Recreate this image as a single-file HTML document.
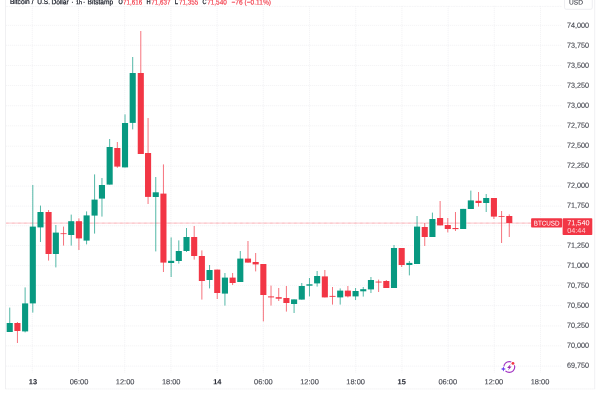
<!DOCTYPE html>
<html lang="en">
<head>
<meta charset="utf-8">
<title>BTCUSD chart</title>
<style>
html,body{margin:0;padding:0;background:#fff;}
body{width:600px;height:400px;overflow:hidden;position:relative;font-family:"Liberation Sans",Arial,sans-serif;}
svg{display:block;position:absolute;left:0;top:0;}
svg text{font-family:"Liberation Sans",Arial,sans-serif;}
</style>
</head>
<body>
<svg width="600" height="400" viewBox="0 0 600 400">
<rect x="0" y="0" width="600" height="400" fill="#ffffff"/>

<g stroke="#efeff2" stroke-width="0.7" stroke-dasharray="1.2 0.8" fill="none">
<line x1="6" y1="6.4" x2="561.6" y2="6.4" stroke-dasharray="2 0.6" stroke="#f1f1f4"/>
<line x1="6" y1="25.4" x2="561.6" y2="25.4"/>
<line x1="6" y1="45.3" x2="561.6" y2="45.3"/>
<line x1="6" y1="65.5" x2="561.6" y2="65.5"/>
<line x1="6" y1="85.5" x2="561.6" y2="85.5"/>
<line x1="6" y1="105.7" x2="561.6" y2="105.7"/>
<line x1="6" y1="125.8" x2="561.6" y2="125.8"/>
<line x1="6" y1="146.2" x2="561.6" y2="146.2"/>
<line x1="6" y1="166.2" x2="561.6" y2="166.2"/>
<line x1="6" y1="186.1" x2="561.6" y2="186.1"/>
<line x1="6" y1="206.1" x2="561.6" y2="206.1"/>
<line x1="6" y1="225.7" x2="561.6" y2="225.7"/>
<line x1="6" y1="245.5" x2="561.6" y2="245.5"/>
<line x1="6" y1="265.6" x2="561.6" y2="265.6"/>
<line x1="6" y1="285.4" x2="561.6" y2="285.4"/>
<line x1="6" y1="305.6" x2="561.6" y2="305.6"/>
<line x1="6" y1="325.9" x2="561.6" y2="325.9"/>
<line x1="6" y1="345.8" x2="561.6" y2="345.8"/>
<line x1="6" y1="366.1" x2="561.6" y2="366.1"/>
<line x1="32.30" y1="6" x2="32.30" y2="372.6"/>
<line x1="78.50" y1="6" x2="78.50" y2="372.6"/>
<line x1="124.70" y1="6" x2="124.70" y2="372.6"/>
<line x1="170.90" y1="6" x2="170.90" y2="372.6"/>
<line x1="217.10" y1="6" x2="217.10" y2="372.6"/>
<line x1="263.30" y1="6" x2="263.30" y2="372.6"/>
<line x1="309.50" y1="6" x2="309.50" y2="372.6"/>
<line x1="355.70" y1="6" x2="355.70" y2="372.6"/>
<line x1="401.90" y1="6" x2="401.90" y2="372.6"/>
<line x1="448.10" y1="6" x2="448.10" y2="372.6"/>
<line x1="494.30" y1="6" x2="494.30" y2="372.6"/>
<line x1="540.50" y1="6" x2="540.50" y2="372.6"/>
</g>
<g stroke="#ececef" stroke-width="0.8" fill="none">
<line x1="5.5" y1="0" x2="5.5" y2="389.0"/>
<line x1="5.5" y1="388.9" x2="594.7" y2="388.9" stroke-dasharray="1.3 0.7"/>
<line x1="594.7" y1="0" x2="594.7" y2="389.0"/>
</g>
<line x1="6" y1="223.1" x2="561.6" y2="223.1" stroke="#f23645" stroke-width="0.75" stroke-dasharray="0.7 0.5" opacity="0.8"/>
<g>
<line x1="9.74" y1="307.6" x2="9.74" y2="332.0" stroke="#089981" stroke-width="0.70"/>
<rect x="6.69" y="323.00" width="6.10" height="9.00" fill="#089981"/>
<line x1="17.43" y1="322.0" x2="17.43" y2="343.0" stroke="#f23645" stroke-width="0.70"/>
<rect x="14.38" y="323.00" width="6.10" height="8.00" fill="#f23645"/>
<line x1="25.11" y1="287.4" x2="25.11" y2="332.4" stroke="#089981" stroke-width="0.70"/>
<rect x="22.06" y="303.40" width="6.10" height="28.00" fill="#089981"/>
<line x1="32.80" y1="185.0" x2="32.80" y2="312.6" stroke="#089981" stroke-width="0.70"/>
<rect x="29.75" y="226.60" width="6.10" height="76.80" fill="#089981"/>
<line x1="40.48" y1="205.6" x2="40.48" y2="242.0" stroke="#089981" stroke-width="0.70"/>
<rect x="37.44" y="212.00" width="6.10" height="15.40" fill="#089981"/>
<line x1="48.57" y1="210.0" x2="48.57" y2="260.6" stroke="#f23645" stroke-width="0.70"/>
<rect x="45.52" y="212.00" width="6.10" height="42.00" fill="#f23645"/>
<line x1="55.85" y1="225.0" x2="55.85" y2="267.4" stroke="#089981" stroke-width="0.70"/>
<rect x="52.80" y="232.60" width="6.10" height="21.40" fill="#089981"/>
<line x1="63.54" y1="226.6" x2="63.54" y2="245.6" stroke="#f23645" stroke-width="0.70"/>
<rect x="60.49" y="233.30" width="6.10" height="0.80" fill="#f23645"/>
<line x1="71.22" y1="214.6" x2="71.22" y2="245.6" stroke="#089981" stroke-width="0.70"/>
<rect x="68.17" y="221.20" width="6.10" height="13.80" fill="#089981"/>
<line x1="78.91" y1="218.4" x2="78.91" y2="250.0" stroke="#f23645" stroke-width="0.70"/>
<rect x="75.86" y="221.20" width="6.10" height="17.20" fill="#f23645"/>
<line x1="86.59" y1="211.4" x2="86.59" y2="244.4" stroke="#089981" stroke-width="0.70"/>
<rect x="83.55" y="215.40" width="6.10" height="25.20" fill="#089981"/>
<line x1="94.58" y1="174.4" x2="94.58" y2="233.6" stroke="#089981" stroke-width="0.70"/>
<rect x="91.53" y="199.60" width="6.10" height="16.00" fill="#089981"/>
<line x1="101.96" y1="178.0" x2="101.96" y2="216.6" stroke="#089981" stroke-width="0.70"/>
<rect x="98.91" y="185.00" width="6.10" height="13.60" fill="#089981"/>
<line x1="109.65" y1="139.0" x2="109.65" y2="184.6" stroke="#089981" stroke-width="0.70"/>
<rect x="106.60" y="147.00" width="6.10" height="37.60" fill="#089981"/>
<line x1="117.33" y1="142.0" x2="117.33" y2="167.8" stroke="#f23645" stroke-width="0.70"/>
<rect x="114.28" y="148.00" width="6.10" height="18.60" fill="#f23645"/>
<line x1="125.02" y1="114.4" x2="125.02" y2="167.4" stroke="#089981" stroke-width="0.70"/>
<rect x="121.97" y="123.00" width="6.10" height="44.40" fill="#089981"/>
<line x1="132.70" y1="57.0" x2="132.70" y2="129.4" stroke="#089981" stroke-width="0.70"/>
<rect x="129.65" y="73.00" width="6.10" height="49.90" fill="#089981"/>
<line x1="140.79" y1="31.0" x2="140.79" y2="154.0" stroke="#f23645" stroke-width="0.70"/>
<rect x="137.74" y="73.00" width="6.10" height="81.00" fill="#f23645"/>
<line x1="148.07" y1="118.0" x2="148.07" y2="204.0" stroke="#f23645" stroke-width="0.70"/>
<rect x="145.02" y="153.00" width="6.10" height="43.90" fill="#f23645"/>
<line x1="155.76" y1="177.0" x2="155.76" y2="251.4" stroke="#089981" stroke-width="0.70"/>
<rect x="152.71" y="192.30" width="6.10" height="4.70" fill="#089981"/>
<line x1="163.44" y1="164.4" x2="163.44" y2="272.0" stroke="#f23645" stroke-width="0.70"/>
<rect x="160.39" y="193.60" width="6.10" height="69.00" fill="#f23645"/>
<line x1="171.13" y1="237.4" x2="171.13" y2="277.0" stroke="#089981" stroke-width="0.70"/>
<rect x="168.08" y="260.80" width="6.10" height="2.20" fill="#089981"/>
<line x1="178.81" y1="240.4" x2="178.81" y2="263.6" stroke="#089981" stroke-width="0.70"/>
<rect x="175.76" y="251.00" width="6.10" height="10.00" fill="#089981"/>
<line x1="186.50" y1="228.0" x2="186.50" y2="252.0" stroke="#089981" stroke-width="0.70"/>
<rect x="183.45" y="237.00" width="6.10" height="14.00" fill="#089981"/>
<line x1="194.19" y1="226.0" x2="194.19" y2="259.6" stroke="#f23645" stroke-width="0.70"/>
<rect x="191.13" y="237.00" width="6.10" height="19.00" fill="#f23645"/>
<line x1="201.87" y1="250.4" x2="201.87" y2="299.6" stroke="#f23645" stroke-width="0.70"/>
<rect x="198.82" y="256.00" width="6.10" height="25.00" fill="#f23645"/>
<line x1="209.56" y1="265.0" x2="209.56" y2="288.4" stroke="#089981" stroke-width="0.70"/>
<rect x="206.50" y="270.00" width="6.10" height="10.00" fill="#089981"/>
<line x1="217.24" y1="269.6" x2="217.24" y2="299.0" stroke="#f23645" stroke-width="0.70"/>
<rect x="214.19" y="269.60" width="6.10" height="23.40" fill="#f23645"/>
<line x1="224.93" y1="273.0" x2="224.93" y2="305.6" stroke="#089981" stroke-width="0.70"/>
<rect x="221.88" y="277.60" width="6.10" height="16.00" fill="#089981"/>
<line x1="232.61" y1="273.0" x2="232.61" y2="285.0" stroke="#f23645" stroke-width="0.70"/>
<rect x="229.56" y="277.60" width="6.10" height="5.40" fill="#f23645"/>
<line x1="240.29" y1="251.0" x2="240.29" y2="282.0" stroke="#089981" stroke-width="0.70"/>
<rect x="237.24" y="258.60" width="6.10" height="23.40" fill="#089981"/>
<line x1="247.98" y1="241.0" x2="247.98" y2="262.6" stroke="#f23645" stroke-width="0.70"/>
<rect x="244.93" y="258.60" width="6.10" height="4.00" fill="#f23645"/>
<line x1="255.66" y1="253.0" x2="255.66" y2="271.4" stroke="#f23645" stroke-width="0.70"/>
<rect x="252.61" y="262.00" width="6.10" height="2.40" fill="#f23645"/>
<line x1="263.35" y1="264.0" x2="263.35" y2="321.4" stroke="#f23645" stroke-width="0.70"/>
<rect x="260.30" y="264.00" width="6.10" height="31.00" fill="#f23645"/>
<line x1="271.03" y1="285.6" x2="271.03" y2="305.6" stroke="#f23645" stroke-width="0.70"/>
<rect x="267.98" y="296.40" width="6.10" height="1.00" fill="#f23645"/>
<line x1="278.72" y1="288.0" x2="278.72" y2="301.0" stroke="#f23645" stroke-width="0.70"/>
<rect x="275.67" y="297.20" width="6.10" height="1.50" fill="#f23645"/>
<line x1="286.40" y1="286.0" x2="286.40" y2="311.6" stroke="#f23645" stroke-width="0.70"/>
<rect x="283.35" y="298.00" width="6.10" height="5.00" fill="#f23645"/>
<line x1="294.09" y1="299.4" x2="294.09" y2="313.0" stroke="#089981" stroke-width="0.70"/>
<rect x="291.04" y="299.40" width="6.10" height="4.60" fill="#089981"/>
<line x1="301.77" y1="283.0" x2="301.77" y2="299.6" stroke="#089981" stroke-width="0.70"/>
<rect x="298.72" y="286.00" width="6.10" height="13.60" fill="#089981"/>
<line x1="309.46" y1="278.0" x2="309.46" y2="296.4" stroke="#089981" stroke-width="0.70"/>
<rect x="306.41" y="284.30" width="6.10" height="1.40" fill="#089981"/>
<line x1="317.14" y1="271.0" x2="317.14" y2="286.6" stroke="#089981" stroke-width="0.70"/>
<rect x="314.09" y="276.00" width="6.10" height="7.40" fill="#089981"/>
<line x1="324.83" y1="270.0" x2="324.83" y2="297.4" stroke="#f23645" stroke-width="0.70"/>
<rect x="321.78" y="276.40" width="6.10" height="21.00" fill="#f23645"/>
<line x1="332.51" y1="287.0" x2="332.51" y2="304.6" stroke="#f23645" stroke-width="0.70"/>
<rect x="329.46" y="295.90" width="6.10" height="0.90" fill="#f23645"/>
<line x1="340.20" y1="288.4" x2="340.20" y2="304.6" stroke="#089981" stroke-width="0.70"/>
<rect x="337.15" y="290.60" width="6.10" height="6.80" fill="#089981"/>
<line x1="347.88" y1="286.0" x2="347.88" y2="297.4" stroke="#f23645" stroke-width="0.70"/>
<rect x="344.83" y="290.60" width="6.10" height="5.80" fill="#f23645"/>
<line x1="355.57" y1="288.0" x2="355.57" y2="300.0" stroke="#089981" stroke-width="0.70"/>
<rect x="352.52" y="291.00" width="6.10" height="5.40" fill="#089981"/>
<line x1="363.25" y1="287.0" x2="363.25" y2="296.6" stroke="#089981" stroke-width="0.70"/>
<rect x="360.20" y="289.20" width="6.10" height="2.10" fill="#089981"/>
<line x1="370.94" y1="277.0" x2="370.94" y2="293.0" stroke="#089981" stroke-width="0.70"/>
<rect x="367.89" y="280.00" width="6.10" height="9.40" fill="#089981"/>
<line x1="378.62" y1="279.6" x2="378.62" y2="292.0" stroke="#f23645" stroke-width="0.70"/>
<rect x="375.57" y="281.60" width="6.10" height="0.90" fill="#f23645"/>
<line x1="386.31" y1="280.0" x2="386.31" y2="288.0" stroke="#f23645" stroke-width="0.70"/>
<rect x="383.26" y="281.00" width="6.10" height="7.00" fill="#f23645"/>
<line x1="394.00" y1="245.0" x2="394.00" y2="288.0" stroke="#089981" stroke-width="0.70"/>
<rect x="390.94" y="248.00" width="6.10" height="40.00" fill="#089981"/>
<line x1="401.68" y1="248.0" x2="401.68" y2="267.0" stroke="#f23645" stroke-width="0.70"/>
<rect x="398.63" y="248.00" width="6.10" height="17.00" fill="#f23645"/>
<line x1="409.37" y1="261.0" x2="409.37" y2="275.4" stroke="#089981" stroke-width="0.70"/>
<rect x="406.31" y="262.90" width="6.10" height="2.10" fill="#089981"/>
<line x1="417.05" y1="216.0" x2="417.05" y2="264.0" stroke="#089981" stroke-width="0.70"/>
<rect x="414.00" y="226.60" width="6.10" height="37.40" fill="#089981"/>
<line x1="424.74" y1="223.0" x2="424.74" y2="246.0" stroke="#f23645" stroke-width="0.70"/>
<rect x="421.69" y="227.00" width="6.10" height="10.00" fill="#f23645"/>
<line x1="432.42" y1="212.6" x2="432.42" y2="237.0" stroke="#089981" stroke-width="0.70"/>
<rect x="429.37" y="219.00" width="6.10" height="18.00" fill="#089981"/>
<line x1="440.11" y1="201.0" x2="440.11" y2="225.4" stroke="#f23645" stroke-width="0.70"/>
<rect x="437.06" y="218.00" width="6.10" height="7.40" fill="#f23645"/>
<line x1="447.79" y1="218.0" x2="447.79" y2="232.4" stroke="#f23645" stroke-width="0.70"/>
<rect x="444.74" y="225.00" width="6.10" height="4.00" fill="#f23645"/>
<line x1="455.47" y1="212.0" x2="455.47" y2="231.0" stroke="#f23645" stroke-width="0.70"/>
<rect x="452.42" y="228.00" width="6.10" height="1.10" fill="#f23645"/>
<line x1="463.16" y1="208.9" x2="463.16" y2="229.0" stroke="#089981" stroke-width="0.70"/>
<rect x="460.11" y="208.90" width="6.10" height="20.10" fill="#089981"/>
<line x1="470.84" y1="190.6" x2="470.84" y2="209.0" stroke="#089981" stroke-width="0.70"/>
<rect x="467.79" y="200.40" width="6.10" height="8.60" fill="#089981"/>
<line x1="478.53" y1="192.0" x2="478.53" y2="206.6" stroke="#f23645" stroke-width="0.70"/>
<rect x="475.48" y="200.80" width="6.10" height="2.20" fill="#f23645"/>
<line x1="486.21" y1="194.0" x2="486.21" y2="212.0" stroke="#089981" stroke-width="0.70"/>
<rect x="483.16" y="198.00" width="6.10" height="5.00" fill="#089981"/>
<line x1="493.90" y1="198.0" x2="493.90" y2="219.0" stroke="#f23645" stroke-width="0.70"/>
<rect x="490.85" y="198.00" width="6.10" height="18.60" fill="#f23645"/>
<line x1="501.58" y1="211.0" x2="501.58" y2="243.0" stroke="#f23645" stroke-width="0.70"/>
<rect x="498.53" y="216.10" width="6.10" height="0.80" fill="#f23645"/>
<line x1="509.27" y1="214.4" x2="509.27" y2="237.0" stroke="#f23645" stroke-width="0.70"/>
<rect x="506.22" y="216.00" width="6.10" height="7.00" fill="#f23645"/>
</g>
<g>
<text transform="translate(566.90 27.80) rotate(0.03) scale(0.0970 0.1000)" font-size="74.5" fill="#44464f" text-anchor="start" stroke="#44464f" stroke-width="1.2" stroke-linejoin="round">74,000</text>
<text transform="translate(566.90 47.80) rotate(0.03) scale(0.0970 0.1000)" font-size="74.5" fill="#44464f" text-anchor="start" stroke="#44464f" stroke-width="1.2" stroke-linejoin="round">73,750</text>
<text transform="translate(566.90 67.80) rotate(0.03) scale(0.0970 0.1000)" font-size="74.5" fill="#44464f" text-anchor="start" stroke="#44464f" stroke-width="1.2" stroke-linejoin="round">73,500</text>
<text transform="translate(566.90 87.80) rotate(0.03) scale(0.0970 0.1000)" font-size="74.5" fill="#44464f" text-anchor="start" stroke="#44464f" stroke-width="1.2" stroke-linejoin="round">73,250</text>
<text transform="translate(566.90 107.80) rotate(0.03) scale(0.0970 0.1000)" font-size="74.5" fill="#44464f" text-anchor="start" stroke="#44464f" stroke-width="1.2" stroke-linejoin="round">73,000</text>
<text transform="translate(566.90 127.80) rotate(0.03) scale(0.0970 0.1000)" font-size="74.5" fill="#44464f" text-anchor="start" stroke="#44464f" stroke-width="1.2" stroke-linejoin="round">72,750</text>
<text transform="translate(566.90 147.80) rotate(0.03) scale(0.0970 0.1000)" font-size="74.5" fill="#44464f" text-anchor="start" stroke="#44464f" stroke-width="1.2" stroke-linejoin="round">72,500</text>
<text transform="translate(566.90 167.80) rotate(0.03) scale(0.0970 0.1000)" font-size="74.5" fill="#44464f" text-anchor="start" stroke="#44464f" stroke-width="1.2" stroke-linejoin="round">72,250</text>
<text transform="translate(566.90 187.80) rotate(0.03) scale(0.0970 0.1000)" font-size="74.5" fill="#44464f" text-anchor="start" stroke="#44464f" stroke-width="1.2" stroke-linejoin="round">72,000</text>
<text transform="translate(566.90 207.80) rotate(0.03) scale(0.0970 0.1000)" font-size="74.5" fill="#44464f" text-anchor="start" stroke="#44464f" stroke-width="1.2" stroke-linejoin="round">71,750</text>
<text transform="translate(566.90 227.80) rotate(0.03) scale(0.0970 0.1000)" font-size="74.5" fill="#44464f" text-anchor="start" stroke="#44464f" stroke-width="1.2" stroke-linejoin="round">71,500</text>
<text transform="translate(566.90 247.80) rotate(0.03) scale(0.0970 0.1000)" font-size="74.5" fill="#44464f" text-anchor="start" stroke="#44464f" stroke-width="1.2" stroke-linejoin="round">71,250</text>
<text transform="translate(566.90 267.80) rotate(0.03) scale(0.0970 0.1000)" font-size="74.5" fill="#44464f" text-anchor="start" stroke="#44464f" stroke-width="1.2" stroke-linejoin="round">71,000</text>
<text transform="translate(566.90 287.80) rotate(0.03) scale(0.0970 0.1000)" font-size="74.5" fill="#44464f" text-anchor="start" stroke="#44464f" stroke-width="1.2" stroke-linejoin="round">70,750</text>
<text transform="translate(566.90 307.80) rotate(0.03) scale(0.0970 0.1000)" font-size="74.5" fill="#44464f" text-anchor="start" stroke="#44464f" stroke-width="1.2" stroke-linejoin="round">70,500</text>
<text transform="translate(566.90 327.80) rotate(0.03) scale(0.0970 0.1000)" font-size="74.5" fill="#44464f" text-anchor="start" stroke="#44464f" stroke-width="1.2" stroke-linejoin="round">70,250</text>
<text transform="translate(566.90 347.80) rotate(0.03) scale(0.0970 0.1000)" font-size="74.5" fill="#44464f" text-anchor="start" stroke="#44464f" stroke-width="1.2" stroke-linejoin="round">70,000</text>
<text transform="translate(566.90 367.80) rotate(0.03) scale(0.0970 0.1000)" font-size="74.5" fill="#44464f" text-anchor="start" stroke="#44464f" stroke-width="1.2" stroke-linejoin="round">69,750</text>
</g>
<g>
<text transform="translate(32.90 384.30) rotate(0.03) scale(0.1000 0.1000)" font-size="74.0" fill="#2a2d37" text-anchor="middle" font-weight="bold" stroke="#2a2d37" stroke-width="1.0" stroke-linejoin="round">13</text>
<text transform="translate(79.00 384.30) rotate(0.03) scale(0.1000 0.1000)" font-size="74.5" fill="#44464f" text-anchor="middle" stroke="#44464f" stroke-width="1.2" stroke-linejoin="round">06:00</text>
<text transform="translate(125.10 384.30) rotate(0.03) scale(0.1000 0.1000)" font-size="74.5" fill="#44464f" text-anchor="middle" stroke="#44464f" stroke-width="1.2" stroke-linejoin="round">12:00</text>
<text transform="translate(171.20 384.30) rotate(0.03) scale(0.1000 0.1000)" font-size="74.5" fill="#44464f" text-anchor="middle" stroke="#44464f" stroke-width="1.2" stroke-linejoin="round">18:00</text>
<text transform="translate(217.30 384.30) rotate(0.03) scale(0.1000 0.1000)" font-size="74.0" fill="#2a2d37" text-anchor="middle" font-weight="bold" stroke="#2a2d37" stroke-width="1.0" stroke-linejoin="round">14</text>
<text transform="translate(263.40 384.30) rotate(0.03) scale(0.1000 0.1000)" font-size="74.5" fill="#44464f" text-anchor="middle" stroke="#44464f" stroke-width="1.2" stroke-linejoin="round">06:00</text>
<text transform="translate(309.50 384.30) rotate(0.03) scale(0.1000 0.1000)" font-size="74.5" fill="#44464f" text-anchor="middle" stroke="#44464f" stroke-width="1.2" stroke-linejoin="round">12:00</text>
<text transform="translate(355.60 384.30) rotate(0.03) scale(0.1000 0.1000)" font-size="74.5" fill="#44464f" text-anchor="middle" stroke="#44464f" stroke-width="1.2" stroke-linejoin="round">18:00</text>
<text transform="translate(401.70 384.30) rotate(0.03) scale(0.1000 0.1000)" font-size="74.0" fill="#2a2d37" text-anchor="middle" font-weight="bold" stroke="#2a2d37" stroke-width="1.0" stroke-linejoin="round">15</text>
<text transform="translate(447.80 384.30) rotate(0.03) scale(0.1000 0.1000)" font-size="74.5" fill="#44464f" text-anchor="middle" stroke="#44464f" stroke-width="1.2" stroke-linejoin="round">06:00</text>
<text transform="translate(493.90 384.30) rotate(0.03) scale(0.1000 0.1000)" font-size="74.5" fill="#44464f" text-anchor="middle" stroke="#44464f" stroke-width="1.2" stroke-linejoin="round">12:00</text>
<text transform="translate(540.00 384.30) rotate(0.03) scale(0.1000 0.1000)" font-size="74.5" fill="#44464f" text-anchor="middle" stroke="#44464f" stroke-width="1.2" stroke-linejoin="round">18:00</text>
</g>
<rect x="564.5" y="-4" width="27.8" height="13.3" rx="1.8" ry="1.8" fill="#fff" stroke="#e6e7eb" stroke-width="0.7"/>
<text transform="translate(576.00 4.40) rotate(0.03) scale(0.1000 0.1000)" font-size="66.0" fill="#44464f" text-anchor="middle" stroke="#44464f" stroke-width="1.2" stroke-linejoin="round">USD</text>
<rect x="531.1" y="218.2" width="31.0" height="9.3" rx="0.8" fill="#f23645"/>
<text transform="translate(533.70 225.40) rotate(0.03) scale(0.0930 0.1000)" font-size="68.0" fill="#ffffff" text-anchor="start">BTCUSD</text>
<rect x="562.6" y="218.2" width="29.7" height="16.9" rx="0.8" fill="#f23645"/>
<text transform="translate(567.20 225.30) rotate(0.03) scale(0.1000 0.1000)" font-size="73.0" fill="#ffffff" text-anchor="start">71,540</text>
<text transform="translate(567.20 232.90) rotate(0.03) scale(0.1000 0.1000)" font-size="73.0" fill="#ffffff" text-anchor="start" fill-opacity="0.75">04:44</text>
<g>
<text xml:space="preserve" transform="translate(0 4.10) rotate(0.03) scale(0.0940 0.1)" font-size="70.0" fill="#161a25" stroke="#161a25" stroke-width="2.3" stroke-linejoin="round"><tspan x="106">Bitcoin </tspan><tspan x="337">/ </tspan><tspan x="396">U.S. </tspan><tspan x="548">Dollar </tspan><tspan x="759">· </tspan><tspan x="809" font-size="58">1h </tspan><tspan x="884">· </tspan><tspan x="932">Bitstamp</tspan></text>
<text transform="translate(118.40 4.40) rotate(0.03) scale(0.0771 0.1000)" font-size="70.0" fill="#161a25" text-anchor="start" stroke="#161a25" stroke-width="2.8" stroke-linejoin="round">O</text>
<text transform="translate(123.00 4.40) rotate(0.03) scale(0.0897 0.1000)" font-size="70.0" fill="#f23645" text-anchor="start" stroke="#f23645" stroke-width="1.5" stroke-linejoin="round">71,616</text>
<text transform="translate(146.60 4.40) rotate(0.03) scale(0.0811 0.1000)" font-size="70.0" fill="#161a25" text-anchor="start" stroke="#161a25" stroke-width="2.8" stroke-linejoin="round">H</text>
<text transform="translate(151.30 4.40) rotate(0.03) scale(0.0897 0.1000)" font-size="70.0" fill="#f23645" text-anchor="start" stroke="#f23645" stroke-width="1.5" stroke-linejoin="round">71,637</text>
<text transform="translate(174.70 4.40) rotate(0.03) scale(0.0848 0.1000)" font-size="70.0" fill="#161a25" text-anchor="start" stroke="#161a25" stroke-width="2.8" stroke-linejoin="round">L</text>
<text transform="translate(179.00 4.40) rotate(0.03) scale(0.0897 0.1000)" font-size="70.0" fill="#f23645" text-anchor="start" stroke="#f23645" stroke-width="1.5" stroke-linejoin="round">71,355</text>
<text transform="translate(202.50 4.40) rotate(0.03) scale(0.0791 0.1000)" font-size="70.0" fill="#161a25" text-anchor="start" stroke="#161a25" stroke-width="2.8" stroke-linejoin="round">C</text>
<text transform="translate(207.20 4.40) rotate(0.03) scale(0.0915 0.1000)" font-size="70.0" fill="#f23645" text-anchor="start" stroke="#f23645" stroke-width="1.5" stroke-linejoin="round">71,540</text>
<text transform="translate(231.50 4.40) rotate(0.03) scale(0.0943 0.1000)" font-size="70.0" fill="#f23645" text-anchor="start" stroke="#f23645" stroke-width="1.5" stroke-linejoin="round">−76 (−0.11%)</text>
</g>
<g fill="none">
<circle cx="509.3" cy="367" r="5.45" stroke="#a233c2" stroke-width="1.15"/>
<circle cx="503.4" cy="369" r="2.7" fill="#ffffff"/>
<path d="M503.4 366.4 L504.15 368.25 L506 369 L504.15 369.75 L503.4 371.6 L502.65 369.75 L500.8 369 L502.65 368.25 Z" fill="#6a3df2"/>
<circle cx="512.95" cy="363.4" r="2.3" fill="#ffffff"/>
<circle cx="512.95" cy="363.4" r="1.45" fill="#f23645"/>
<path d="M510.7 363.9 L507.1 367.9 L509.1 367.9 L508.0 370.6 L511.6 366.5 L509.6 366.5 Z" fill="#9c27b0"/>
</g>
</svg>
</body>
</html>
